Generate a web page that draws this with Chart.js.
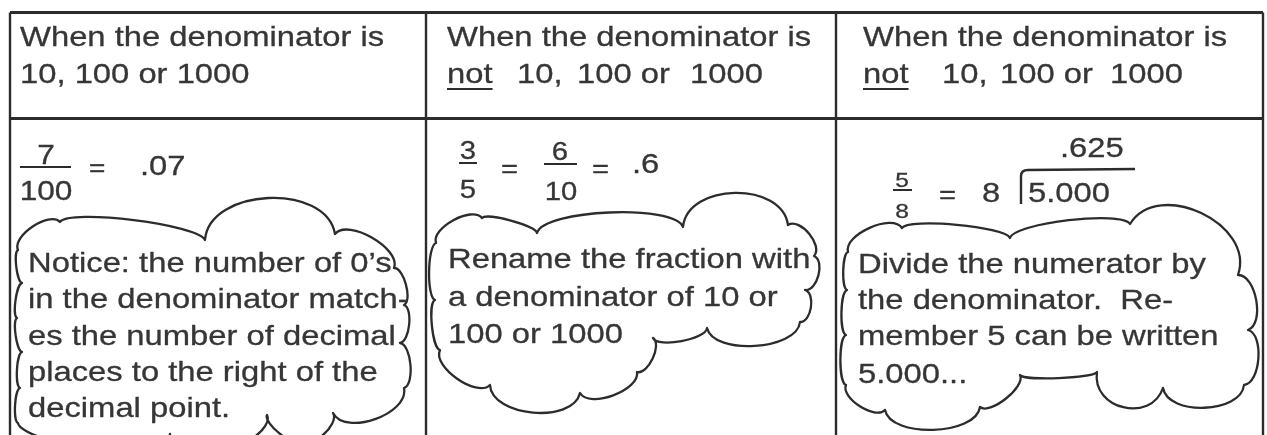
<!DOCTYPE html>
<html>
<head>
<meta charset="utf-8">
<script src="https://cdn.jsdelivr.net/npm/chart.js@4.4.1/dist/chart.umd.min.js"></script>
<style>
html, body { margin: 0; padding: 0; background: #fff; }
#wrap { width: 1267px; height: 435px; position: relative; }
</style>
</head>
<body>
<div id="wrap"><canvas id="myChart"></canvas></div>
<script>
// heading text, one entry per column
const headerTop = ['When the denominator is', 'When the denominator is', 'When the denominator is'];
const headerBottom = [
    ['10, 100 or 1000'],
    ['not', '10,', '100 or', '1000'],
    ['not', '10,', '100 or', '1000']
];
// worked examples
const example1 = ['7', '100', '=', '.07'];
const example2 = ['3', '5', '=', '6', '10', '=', '.6'];
const example3 = ['5', '8', '=', '8', '.625', '5.000'];
// the notes written in the clouds
const notes1 = ['Notice: the number of 0\u2019s', 'in the denominator match-', 'es the number of decimal', 'places to the right of the', 'decimal point.'];
const notes2 = ['Rename the fraction with', 'a denominator of 10 or', '100 or 1000'];
const notes3 = ['Divide the numerator by', 'the denominator.  Re-', 'member 5 can be written', '5.000...'];

// ---- layout (value space = page pixels) ----
const W = 1267, H = 435;
const STRETCH = 1.17;
const FONT = '"Liberation Sans", Arial, Helvetica, sans-serif';
const INK = '#363636';
const colLines = [10, 426, 836, 1263];
const rowLines = [12.5, 118.5];
const headX = [20, 447, 863];
const head2X = [[20], [447, 517, 577, 690], [863, 942, 1000, 1110]];
const noteX = [28, 448, 858];
const noteY = [[272, 308, 345, 381, 417], [268, 306, 343], [273, 309, 345, 383]];

// cloud outlines: cusps clockwise, and how far each bump bulges
const cloud1 = [[18,250],[60,222],[205,240],[335,234],[394,268],[404,305],[400,343],[404,388],[333,413],[300,442],[267,415],[230,442],[170,434],[80,442],[18,423],[20,388],[22,352],[17,318],[22,283]];
const bulge1 = [0.3,0.1,0.4,0.3,0.25,0.25,0.25,0.35,0.3,0.2,0.3,0.3,0.2,0.15,0.15,0.15,0.15,0.15,0.15];
const cloud2 = [[436,243],[482,218],[537,233],[683,227],[788,225],[814,256],[805,290],[800,322],[707,328],[653,338],[637,372],[580,393],[490,385],[440,350],[435,300]];
const bulge2 = [0.3,0.12,0.16,0.42,0.35,0.35,0.35,0.3,0.2,0.3,0.3,0.35,0.3,0.15,0.15];
const cloud3 = [[848,252],[902,228],[1010,238],[1130,224],[1238,275],[1248,330],[1244,385],[1163,388],[1097,372],[1020,375],[980,407],[885,410],[846,385],[846,335],[847,290]];
const bulge3 = [0.3,0.1,0.12,0.45,0.32,0.3,0.35,0.55,0.08,0.25,0.3,0.3,0.15,0.15,0.15];

function put(ctx, s, x, y, size, align) {
    ctx.save();
    ctx.font = size + 'px ' + FONT;
    var w = ctx.measureText(s).width * STRETCH;
    var left = x;
    if (align === 'center') left = x - w / 2;
    ctx.translate(left, y);
    ctx.scale(STRETCH, 1);
    ctx.textAlign = 'left';
    ctx.textBaseline = 'alphabetic';
    ctx.fillStyle = INK;
    ctx.strokeStyle = INK;
    ctx.lineWidth = 0.3;
    ctx.fillText(s, 0, 0);
    ctx.strokeText(s, 0, 0);
    ctx.restore();
    return w;
}

function line(ctx, x1, y1, x2, y2, lw) {
    ctx.beginPath();
    ctx.lineWidth = lw;
    ctx.moveTo(x1, y1);
    ctx.lineTo(x2, y2);
    ctx.stroke();
}

function cloud(ctx, sx, sy, pts, bulges) {
    ctx.beginPath();
    ctx.moveTo(sx(pts[0][0]), sy(pts[0][1]));
    for (var i = 0; i < pts.length; i++) {
        var a = pts[i], b = pts[(i + 1) % pts.length];
        var x1 = sx(a[0]), y1 = sy(a[1]), x2 = sx(b[0]), y2 = sy(b[1]);
        var dx = x2 - x1, dy = y2 - y1;
        var len = Math.sqrt(dx * dx + dy * dy);
        var nx = dy / len, ny = -dx / len;
        var k = bulges[i] * len;
        ctx.bezierCurveTo(
            x1 + dx * 0.05 + nx * k, y1 + dy * 0.05 + ny * k,
            x1 + dx * 0.95 + nx * k, y1 + dy * 0.95 + ny * k,
            x2, y2);
    }
    ctx.closePath();
    ctx.lineWidth = 2.3;
    ctx.lineJoin = 'round';
    ctx.stroke();
}

const tablePlugin = {
    id: 'tablePlugin',
    afterDraw: function(chart) {
        var ctx = chart.ctx;
        var sx = function(v) { return chart.scales.x.getPixelForValue(v); };
        var sy = function(v) { return chart.scales.y.getPixelForValue(v); };
        ctx.save();
        ctx.strokeStyle = '#2c2c2c';
        ctx.lineCap = 'butt';

        // grid
        rowLines.forEach(function(y) { line(ctx, sx(colLines[0]), sy(y), sx(colLines[3]), sy(y), 2.8); });
        colLines.forEach(function(x) { line(ctx, sx(x), sy(rowLines[0]), sx(x), sy(H), 2.4); });

        // headings
        for (var c = 0; c < 3; c++) {
            put(ctx, headerTop[c], sx(headX[c]), sy(46), 28);
            for (var j = 0; j < headerBottom[c].length; j++) {
                var w = put(ctx, headerBottom[c][j], sx(head2X[c][j]), sy(83), 28);
                if (headerBottom[c][j] === 'not') line(ctx, sx(head2X[c][j]), sy(89), sx(head2X[c][j]) + w, sy(89), 2);
            }
        }

        // example 1: 7/100 = .07
        put(ctx, example1[0], sx(46), sy(164), 27, 'center');
        line(ctx, sx(20), sy(167), sx(71), sy(167), 2);
        put(ctx, example1[1], sx(46), sy(200), 27, 'center');
        put(ctx, example1[2], sx(89), sy(176), 24);
        put(ctx, example1[3], sx(140), sy(175), 28);

        // example 2: 3/5 = 6/10 = .6
        put(ctx, example2[0], sx(468), sy(159), 25, 'center');
        line(ctx, sx(459), sy(163), sx(477), sy(163), 2);
        put(ctx, example2[1], sx(468), sy(198), 25, 'center');
        put(ctx, example2[2], sx(501), sy(177), 25);
        put(ctx, example2[3], sx(560), sy(160), 25, 'center');
        line(ctx, sx(544), sy(164), sx(577), sy(164), 2);
        put(ctx, example2[4], sx(561), sy(200), 25, 'center');
        put(ctx, example2[5], sx(592), sy(177), 25);
        put(ctx, example2[6], sx(632), sy(173), 28);

        // example 3: 5/8 = 8 ) 5.000
        put(ctx, example3[0], sx(902), sy(187), 21, 'center');
        line(ctx, sx(893), sy(190), sx(912), sy(190), 2);
        put(ctx, example3[1], sx(902), sy(218), 21, 'center');
        put(ctx, example3[2], sx(939), sy(203), 25);
        put(ctx, example3[3], sx(982), sy(202), 28);
        put(ctx, example3[4], sx(1060), sy(157), 28);
        put(ctx, example3[5], sx(1028), sy(202), 28);
        ctx.beginPath();
        ctx.lineWidth = 2.4;
        ctx.moveTo(sx(1021), sy(204));
        ctx.lineTo(sx(1021), sy(176));
        ctx.quadraticCurveTo(sx(1021), sy(170), sx(1028), sy(170));
        ctx.lineTo(sx(1135), sy(169));
        ctx.stroke();

        // clouds and the notes inside them
        cloud(ctx, sx, sy, cloud1, bulge1);
        cloud(ctx, sx, sy, cloud2, bulge2);
        cloud(ctx, sx, sy, cloud3, bulge3);
        [notes1, notes2, notes3].forEach(function(lines, c) {
            lines.forEach(function(t, i) { put(ctx, t, sx(noteX[c]), sy(noteY[c][i]), 28); });
        });
        ctx.restore();
    }
};

const ctx = document.getElementById('myChart').getContext('2d');
const myChart = new Chart(ctx, {
    type: 'scatter',
    data: { datasets: [] },
    options: {
        responsive: true,
        maintainAspectRatio: false,
        animation: false,
        layout: { padding: 0 },
        plugins: { legend: { display: false }, tooltip: { enabled: false } },
        scales: {
            x: { type: 'linear', min: 0, max: W, display: false },
            y: { type: 'linear', min: 0, max: H, reverse: true, display: false }
        }
    },
    plugins: [tablePlugin]
});
</script>
</body>
</html>
